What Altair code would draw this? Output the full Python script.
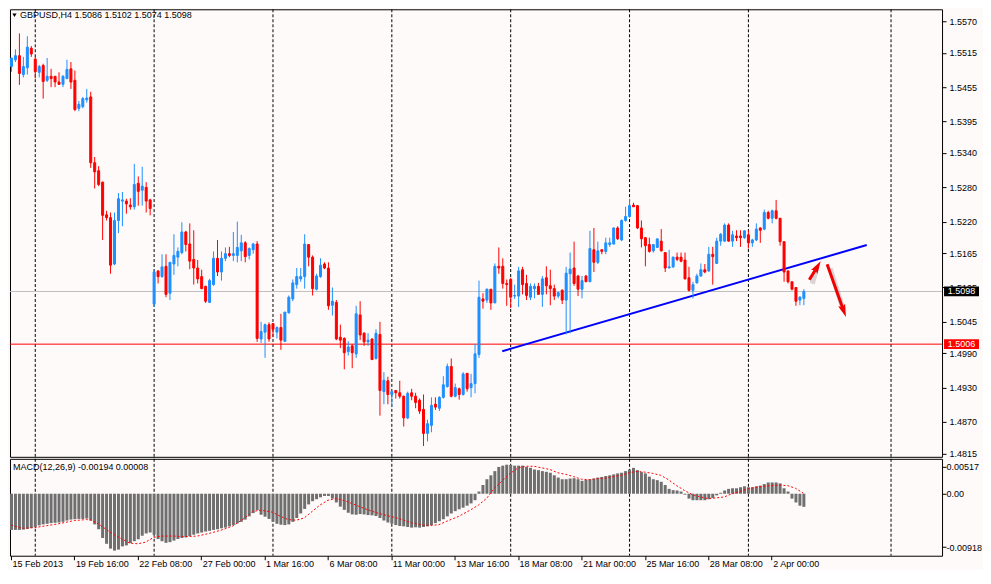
import altair as alt
import pandas as pd

FONT = "Liberation Sans"
UP = "#1E90FF"
DOWN = "#FF0000"
BG = "#FFFAFA"

symbol_title = "GBPUSD,H4  1.5086 1.5102 1.5074 1.5098"
macd_title = "MACD(12,26,9) -0.00194 0.00008"

open_ = [1.5491,1.5503,1.5510,1.5477,1.5489,1.5523,1.5504,1.5481,1.5493,1.5467,
         1.5474,1.5474,1.5464,1.5460,1.5470,1.5487,1.5467,1.5418,1.5421,1.5433,
         1.5438,1.5323,1.5309,1.5289,1.5232,1.5227,1.5146,1.5222,1.5256,1.5256,
         1.5249,1.5246,1.5287,1.5275,1.5280,1.5258,1.5076,1.5134,1.5124,1.5142,
         1.5095,1.5146,1.5158,1.5166,1.5202,1.5181,1.5154,1.5139,1.5124,1.5107,
         1.5079,1.5110,1.5156,1.5132,1.5156,1.5164,1.5161,1.5161,1.5169,1.5183,
         1.5161,1.5171,1.5181,1.5015,1.5027,1.5040,1.5042,1.5027,1.5035,1.5011,
         1.5061,1.5085,1.5110,1.5120,1.5124,1.5180,1.5158,1.5102,1.5124,1.5146,
         1.5139,1.5074,1.5079,1.5018,1.5016,1.4993,1.5003,1.4989,1.5057,1.5025,
         1.5010,1.5015,1.4981,1.5023,1.4923,1.4942,1.4918,1.4925,1.4921,1.4915,
         1.4877,1.4921,1.4915,1.4908,1.4892,1.4850,1.4864,1.4901,1.4894,1.4913,
         1.4932,1.4967,1.4915,1.4928,1.4918,1.4955,1.4930,1.4937,1.4988,1.5085,
         1.5083,1.5102,1.5078,1.5142,1.5142,1.5112,1.5119,1.5090,1.5090,1.5136,
         1.5112,1.5088,1.5103,1.5107,1.5093,1.5122,1.5108,1.5103,1.5090,1.5100,
         1.5083,1.5129,1.5139,1.5125,1.5102,1.5125,1.5115,1.5171,1.5149,1.5171,
         1.5168,1.5180,1.5181,1.5209,1.5188,1.5222,1.5229,1.5249,1.5248,1.5209,
         1.5192,1.5180,1.5169,1.5175,1.5186,1.5166,1.5139,1.5141,1.5158,1.5158,
         1.5153,1.5122,1.5100,1.5113,1.5125,1.5136,1.5134,1.5163,1.5147,1.5186,
         1.5186,1.5214,1.5186,1.5195,1.5195,1.5192,1.5197,1.5183,1.5188,1.5209,
         1.5207,1.5236,1.5226,1.5239,1.5226,1.5185,1.5134,1.5115,1.5105,1.5083,
         1.5086]
high = [1.5506,1.5521,1.5549,1.5508,1.5544,1.5527,1.5508,1.5494,1.5496,1.5506,
        1.5487,1.5474,1.5481,1.5476,1.5503,1.5499,1.5484,1.5431,1.5438,1.5452,
        1.5447,1.5333,1.5317,1.5290,1.5239,1.5236,1.5236,1.5270,1.5272,1.5260,
        1.5261,1.5321,1.5299,1.5316,1.5289,1.5260,1.5136,1.5134,1.5163,1.5163,
        1.5149,1.5198,1.5175,1.5219,1.5204,1.5217,1.5205,1.5153,1.5136,1.5108,
        1.5120,1.5168,1.5188,1.5168,1.5175,1.5176,1.5202,1.5220,1.5197,1.5186,
        1.5175,1.5183,1.5186,1.5045,1.5042,1.5044,1.5042,1.5037,1.5059,1.5062,
        1.5091,1.5119,1.5139,1.5139,1.5198,1.5181,1.5161,1.5129,1.5156,1.5149,
        1.5149,1.5105,1.5083,1.5040,1.5018,1.5011,1.5006,1.5073,1.5081,1.5027,
        1.5025,1.5016,1.5032,1.5045,1.4957,1.4949,1.4925,1.4925,1.4942,1.4916,
        1.4923,1.4928,1.4921,1.4911,1.4918,1.4874,1.4913,1.4913,1.4915,1.4950,
        1.4972,1.4981,1.4937,1.4930,1.4957,1.4955,1.4954,1.5006,1.5117,1.5095,
        1.5103,1.5102,1.5147,1.5175,1.5156,1.5119,1.5122,1.5110,1.5141,1.5141,
        1.5127,1.5112,1.5112,1.5113,1.5125,1.5142,1.5136,1.5110,1.5098,1.5102,
        1.5141,1.5166,1.5185,1.5127,1.5125,1.5127,1.5204,1.5209,1.5185,1.5171,
        1.5192,1.5192,1.5210,1.5212,1.5224,1.5246,1.5260,1.5253,1.5249,1.5222,
        1.5192,1.5192,1.5180,1.5190,1.5207,1.5166,1.5171,1.5159,1.5166,1.5166,
        1.5166,1.5141,1.5115,1.5129,1.5147,1.5146,1.5176,1.5176,1.5192,1.5200,
        1.5217,1.5217,1.5204,1.5205,1.5205,1.5205,1.5205,1.5190,1.5217,1.5210,
        1.5241,1.5239,1.5241,1.5258,1.5226,1.5185,1.5134,1.5115,1.5105,1.5090,
        1.5102]
low = [1.5482,1.5499,1.5459,1.5472,1.5477,1.5508,1.5470,1.5472,1.5435,1.5464,
       1.5455,1.5455,1.5459,1.5455,1.5469,1.5452,1.5413,1.5413,1.5418,1.5428,
       1.5314,1.5278,1.5282,1.5188,1.5222,1.5129,1.5144,1.5200,1.5212,1.5234,
       1.5241,1.5241,1.5248,1.5248,1.5236,1.5231,1.5071,1.5112,1.5122,1.5088,
       1.5083,1.5127,1.5142,1.5163,1.5168,1.5137,1.5110,1.5112,1.5102,1.5078,
       1.5078,1.5108,1.5125,1.5117,1.5151,1.5158,1.5151,1.5149,1.5151,1.5149,
       1.5154,1.5164,1.5010,1.5008,1.4982,1.5010,1.5018,1.5016,1.4996,1.5010,
       1.5059,1.5081,1.5103,1.5115,1.5103,1.5142,1.5091,1.5100,1.5122,1.5137,
       1.5066,1.5056,1.5013,1.4999,1.4962,1.4986,1.4964,1.4982,1.5013,1.5003,
       1.5003,1.4979,1.4979,1.4881,1.4901,1.4901,1.4896,1.4911,1.4911,1.4862,
       1.4875,1.4908,1.4894,1.4884,1.4828,1.4836,1.4852,1.4891,1.4889,1.4911,
       1.4930,1.4913,1.4913,1.4909,1.4916,1.4923,1.4913,1.4920,1.4982,1.5068,
       1.5078,1.5066,1.5078,1.5129,1.5103,1.5073,1.5069,1.5085,1.5071,1.5093,
       1.5083,1.5083,1.5086,1.5093,1.5071,1.5093,1.5074,1.5083,1.5086,1.5076,
       1.5023,1.5025,1.5108,1.5090,1.5086,1.5115,1.5115,1.5132,1.5146,1.5163,
       1.5163,1.5176,1.5180,1.5188,1.5186,1.5220,1.5227,1.5246,1.5207,1.5175,
       1.5142,1.5166,1.5166,1.5175,1.5168,1.5132,1.5139,1.5139,1.5151,1.5149,
       1.5119,1.5098,1.5086,1.5112,1.5124,1.5130,1.5132,1.5110,1.5146,1.5178,
       1.5185,1.5185,1.5176,1.5186,1.5176,1.5190,1.5173,1.5176,1.5186,1.5183,
       1.5205,1.5224,1.5217,1.5224,1.5178,1.5115,1.5112,1.5100,1.5073,1.5074,
       1.5074]
close = [1.5506,1.5510,1.5479,1.5491,1.5525,1.5513,1.5482,1.5491,1.5465,1.5474,
         1.5470,1.5464,1.5460,1.5474,1.5486,1.5464,1.5416,1.5425,1.5435,1.5436,
         1.5323,1.5307,1.5285,1.5231,1.5227,1.5144,1.5222,1.5260,1.5258,1.5251,
         1.5246,1.5285,1.5273,1.5282,1.5256,1.5243,1.5132,1.5124,1.5141,1.5093,
         1.5149,1.5161,1.5168,1.5202,1.5180,1.5151,1.5139,1.5120,1.5103,1.5081,
         1.5117,1.5156,1.5132,1.5156,1.5164,1.5161,1.5164,1.5175,1.5183,1.5159,
         1.5173,1.5181,1.5016,1.5028,1.5040,1.5015,1.5032,1.5035,1.5013,1.5062,
         1.5088,1.5113,1.5124,1.5124,1.5181,1.5158,1.5103,1.5125,1.5144,1.5139,
         1.5073,1.5081,1.5015,1.5013,1.4991,1.5001,1.4991,1.5059,1.5022,1.5010,
         1.5013,1.4979,1.5025,1.4925,1.4943,1.4918,1.4923,1.4921,1.4915,1.4877,
         1.4920,1.4915,1.4904,1.4889,1.4850,1.4867,1.4899,1.4896,1.4913,1.4935,
         1.4967,1.4915,1.4930,1.4918,1.4954,1.4928,1.4937,1.4989,1.5088,1.5081,
         1.5102,1.5078,1.5142,1.5139,1.5112,1.5110,1.5088,1.5091,1.5134,1.5110,
         1.5091,1.5107,1.5107,1.5093,1.5120,1.5108,1.5103,1.5090,1.5096,1.5083,
         1.5130,1.5137,1.5112,1.5102,1.5117,1.5115,1.5173,1.5149,1.5169,1.5168,
         1.5183,1.5183,1.5209,1.5190,1.5222,1.5229,1.5248,1.5246,1.5209,1.5190,
         1.5178,1.5168,1.5180,1.5190,1.5169,1.5139,1.5141,1.5158,1.5154,1.5151,
         1.5120,1.5100,1.5110,1.5125,1.5136,1.5132,1.5163,1.5159,1.5186,1.5198,
         1.5214,1.5186,1.5197,1.5192,1.5192,1.5204,1.5183,1.5188,1.5207,1.5205,
         1.5236,1.5226,1.5239,1.5226,1.5185,1.5132,1.5115,1.5102,1.5081,1.5088,
         1.5098]

# MACD main line (histogram), in units of 0.00001
macd_e5 = [-536,-536,-536,-531,-521,-507,-493,-469,-454,-445,
           -435,-430,-426,-416,-397,-383,-378,-373,-373,-368,
           -397,-454,-526,-655,-741,-813,-842,-827,-780,-765,
           -732,-703,-674,-622,-588,-574,-607,-670,-703,-727,
           -717,-694,-670,-655,-646,-627,-607,-588,-574,-560,
           -550,-536,-526,-512,-502,-483,-464,-440,-416,-383,
           -335,-287,-244,-311,-340,-373,-416,-445,-459,-464,
           -454,-416,-359,-292,-225,-158,-110,-81,-53,-33,
           -33,-72,-129,-191,-239,-282,-306,-311,-301,-306,
           -316,-320,-330,-359,-397,-426,-445,-464,-478,-483,
           -493,-502,-497,-502,-493,-483,-464,-435,-407,-378,
           -335,-292,-258,-230,-206,-177,-143,-96,33,129,
           215,273,335,397,416,430,426,416,416,416,
           397,383,359,349,335,325,311,273,239,215,
           215,225,230,215,191,206,215,225,239,249,
           263,273,287,301,311,335,359,383,349,320,
           301,253,215,201,177,129,72,53,48,33,
           -14,-72,-96,-96,-96,-96,-81,-62,-24,14,
           48,72,81,81,96,110,96,96,110,120,
           143,167,167,167,153,81,33,-72,-129,-177,
           -194]
# signal line read at these bars, units of 0.00001
sig_i = [0,3,6,8,12,16,19,20,22,24,26,28,30,32,34,36,38,41,44,47,
         50,53,56,59,61,63,66,68,70,72,74,76,78,80,82,84,86,89,92,95,
         98,101,104,106,108,110,113,116,118,120,122,124,126,128,130,132,134,136,138,140,
         142,144,146,148,150,152,154,156,158,160,162,164,166,168,170,172,174,176,178,180,
         182,184,186,188,190,192,194,196,198,200]
sig_e5 = [-464,-512,-502,-483,-445,-397,-383,-387,-445,-526,-607,-670,-732,-741,-717,-646,-627,-627,-636,-627,
          -588,-540,-478,-359,-263,-244,-273,-335,-383,-392,-359,-263,-167,-96,-72,-100,-143,-215,-277,-325,
          -368,-430,-464,-469,-459,-407,-335,-239,-167,-72,81,191,301,383,407,407,383,359,311,287,
          253,215,206,225,230,253,273,311,330,320,301,273,206,120,48,-14,-48,-72,-62,-48,
          0,33,72,96,110,120,129,120,81,8]

price_ticks = [1.5570,1.5515,1.5455,1.5395,1.5340,1.5280,1.5220,1.5165,1.5105,1.5045,1.4990,1.4930,1.4870,1.4815]
bid_price = 1.5098
level_price = 1.5006
macd_domain = [-0.00918, 0.00517]
macd_label_pos = [0.00406, 0.0, -0.00789]
macd_labels = ["0.00517", "0.00", "-0.00918"]
date_idx = [0,16,32,48,64,80,96,112,128,144,160,176,192]
date_labels = ["15 Feb 2013","19 Feb 16:00","22 Feb 08:00","27 Feb 00:00","1 Mar 16:00",
               "6 Mar 08:00","11 Mar 00:00","13 Mar 16:00","18 Mar 08:00","21 Mar 00:00",
               "25 Mar 16:00","28 Mar 08:00","2 Apr 00:00"]
grid_idx = [6,36,66,96,126,156,186,222]
trend_i = [124, 216]
trend_p = [1.49936, 1.51792]
arrow_tail_i = [201.5, 206.0]
arrow_tail_p = [1.51185, 1.51457]
arrow_head_i = [203.4, 210.1]
arrow_head_p = [1.51398, 1.50658]

# ---------------------------------------------------------------- frames
n = len(close)
df = pd.DataFrame({"i": list(range(n)), "open": open_, "high": high, "low": low, "close": close})
df["dir"] = ["up" if c >= o else "down" for o, c in zip(open_, close)]
df["lo"] = [min(o, c) for o, c in zip(open_, close)]
df["hi"] = [max(o, c) for o, c in zip(open_, close)]

mdf = pd.DataFrame({"i": list(range(n)), "m": [v * 1e-5 for v in macd_e5]})
sdf = pd.DataFrame({"i": sig_i, "s": [v * 1e-5 for v in sig_e5]})
gdf = pd.DataFrame({"g": grid_idx})
tdf = pd.DataFrame({"i": trend_i, "p": trend_p})
adf = pd.DataFrame({"x0": arrow_tail_i, "p0": arrow_tail_p, "x1": arrow_head_i, "p1": arrow_head_p})

W = 933
H_MAIN = 448
H_MACD = 97
xs = alt.Scale(domain=[-0.25, 235], nice=False, zero=False, padding=0)
ys = alt.Scale(domain=[1.48091, 1.55911], nice=False, zero=False, padding=0)
ms = alt.Scale(domain=macd_domain, nice=False, zero=False, padding=0)
cs = alt.Scale(domain=["up", "down"], range=[UP, DOWN])

axis_common = dict(title=None, grid=False, domain=False, tickSize=4, tickColor="black",
                   labelFont=FONT, labelFontSize=9, labelColor="black", labelOverlap=False)
price_axis = alt.Axis(orient="right", values=price_ticks, format=".4f", labelPadding=3, **axis_common)
date_expr = "[" + ",".join("'" + s + "'" for s in date_labels) + "][round(datum.value/16)]"
date_axis = alt.Axis(orient="bottom", values=date_idx, labelExpr=date_expr, labelPadding=0,
                     labelAlign="left", labelOffset=1, labelFlush=False, **axis_common)
macd_expr = ("datum.value > 0.001 ? '" + macd_labels[0] + "' : (datum.value < -0.001 ? '"
             + macd_labels[2] + "' : '" + macd_labels[1] + "')")
macd_axis = alt.Axis(orient="right", values=macd_label_pos, labelExpr=macd_expr, labelPadding=0, **axis_common)


def PX(f):
    return alt.X(f, scale=xs, axis=None)


def PY(f):
    return alt.Y(f, scale=ys, axis=price_axis)


def MX(f):
    return alt.X(f, scale=xs, axis=date_axis)


def MY(f):
    return alt.Y(f, scale=ms, axis=macd_axis)


# ---------------------------------------------------------------- main panel
grid = alt.Chart(gdf).mark_rule(color="black", strokeDash=[3, 2], strokeWidth=1, xOffset=0.5).encode(x=PX("g:Q"))
bid_line = alt.Chart(pd.DataFrame({"p": [bid_price]})).mark_rule(color="#C0C0C0", strokeWidth=1).encode(y=PY("p:Q"))
lvl_line = alt.Chart(pd.DataFrame({"p": [level_price]})).mark_rule(color="#FF0000", strokeWidth=1).encode(y=PY("p:Q"))
trend = alt.Chart(tdf).mark_line(color="#0000FF", strokeWidth=2).encode(x=PX("i:Q"), y=PY("p:Q"))

wick = alt.Chart(df).mark_rule(strokeWidth=1, xOffset=0.5).encode(
    x=PX("i:Q"), y=PY("low:Q"), y2="high:Q",
    color=alt.Color("dir:N", scale=cs, legend=None))
body = alt.Chart(df).mark_bar(size=2, strokeWidth=1, xOffset=0.5).encode(
    x=PX("i:Q"), y=PY("lo:Q"), y2="hi:Q",
    color=alt.Color("dir:N", scale=cs, legend=None),
    stroke=alt.Stroke("dir:N", scale=cs, legend=None))

HEAD = "M0,-1L0.5,0.7L0,0.4L-0.5,0.7Z"
shadow = alt.Chart(adf).mark_rule(color="#808080", opacity=0.3, strokeWidth=5, xOffset=3, yOffset=4).encode(
    x=PX("x0:Q"), y=PY("p0:Q"), x2="x1:Q", y2="p1:Q")
shaft = alt.Chart(adf).mark_rule(color="#F00000", strokeWidth=3).encode(
    x=PX("x0:Q"), y=PY("p0:Q"), x2="x1:Q", y2="p1:Q")
head_up = alt.Chart(adf.iloc[[0]]).mark_point(shape=HEAD, filled=True, size=220, angle=31,
                                              color="#F00000", opacity=1, strokeWidth=0).encode(
    x=PX("x1:Q"), y=PY("p1:Q"))
head_dn = alt.Chart(adf.iloc[[1]]).mark_point(shape=HEAD, filled=True, size=220, angle=160,
                                              color="#F00000", opacity=1, strokeWidth=0).encode(
    x=PX("x1:Q"), y=PY("p1:Q"))

box_h = 0.00085
bid_df = pd.DataFrame({"p": [bid_price], "lo": [bid_price - box_h], "hi": [bid_price + box_h],
                       "txt": ["%.4f" % bid_price]})
lvl_df = pd.DataFrame({"p": [level_price], "lo": [level_price - box_h], "hi": [level_price + box_h],
                       "txt": ["%.4f" % level_price]})
bid_box = alt.Chart(bid_df).mark_rect(color="black").encode(
    x=alt.value(W + 2), x2=alt.value(W + 37), y=PY("lo:Q"), y2="hi:Q")
lvl_box = alt.Chart(lvl_df).mark_rect(color="#FF0000").encode(
    x=alt.value(W + 2), x2=alt.value(W + 37), y=PY("lo:Q"), y2="hi:Q")
bid_txt = alt.Chart(bid_df).mark_text(color="white", font=FONT, fontSize=9, align="center", baseline="middle").encode(
    x=alt.value(W + 19.5), y=PY("p:Q"), text="txt:N")
lvl_txt = alt.Chart(lvl_df).mark_text(color="white", font=FONT, fontSize=9, align="center", baseline="middle").encode(
    x=alt.value(W + 19.5), y=PY("p:Q"), text="txt:N")

ttl = pd.DataFrame({"t": [symbol_title]})
tri = alt.Chart(ttl).mark_point(shape="triangle-down", filled=True, size=18, color="black", opacity=1).encode(
    x=alt.value(4.5), y=alt.value(6))
title_txt = alt.Chart(ttl).mark_text(align="left", baseline="middle", font=FONT, fontSize=9, color="black").encode(
    x=alt.value(10), y=alt.value(6), text="t:N")

main = alt.layer(grid, bid_line, lvl_line, trend, wick, body, shadow, shaft, head_up, head_dn,
                 bid_box, lvl_box, bid_txt, lvl_txt, tri, title_txt).properties(width=W, height=H_MAIN)

# ---------------------------------------------------------------- MACD panel
mgrid = alt.Chart(gdf).mark_rule(color="black", strokeDash=[3, 2], strokeWidth=1, xOffset=0.5).encode(x=MX("g:Q"))
mbar = alt.Chart(mdf).mark_bar(size=3, color="#6F6F6F", xOffset=0.5).encode(
    x=MX("i:Q"), y=MY("m:Q"), y2=alt.datum(0))
msig = alt.Chart(sdf).mark_line(color="#FF0000", strokeWidth=1, strokeDash=[2, 2]).encode(
    x=MX("i:Q"), y=MY("s:Q"))
mttl = alt.Chart(pd.DataFrame({"t": [macd_title]})).mark_text(
    align="left", baseline="middle", font=FONT, fontSize=9, color="black").encode(
    x=alt.value(3), y=alt.value(8), text="t:N")

macd_chart = alt.layer(mgrid, mbar, msig, mttl).properties(width=W, height=H_MACD)

chart = alt.vconcat(main, macd_chart, spacing=2, bounds="flush").properties(
    padding={"left": 0, "top": 0, "right": 0, "bottom": 0},
    background=BG,
).configure_view(stroke="black", strokeWidth=1, fill=BG)

chart.save("out.html", embed_options={"renderer": "svg", "actions": False})
